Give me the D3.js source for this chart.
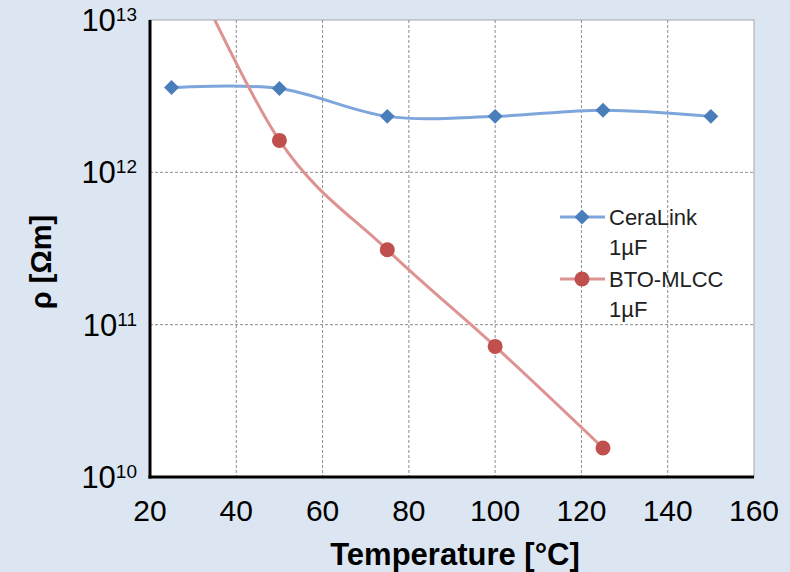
<!DOCTYPE html>
<html><head><meta charset="utf-8">
<script src="https://cdn.jsdelivr.net/npm/d3@7"></script>
<style>body{margin:0;background:#dce6f2;}svg{display:block;}</style>
</head><body>
<script>
const temps = [25, 50, 75, 100, 125, 150];
const ceraLink = [3.6e12, 3.55e12, 2.33e12, 2.33e12, 2.56e12, 2.33e12];
const btoTemps = [25, 50, 75, 100, 125];
const btoMlcc = [4.0e13, 1.62e12, 3.1e11, 7.2e10, 1.55e10];
const xTicks = [20, 40, 60, 80, 100, 120, 140, 160];
const yTicks = [1e10, 1e11, 1e12, 1e13];
const seriesNames = [["CeraLink", "1µF"], ["BTO-MLCC", "1µF"]];

const W = 790, H = 572;
const m = {left: 150, right: 754, top: 20, bottom: 477};
const svg = d3.select("body").append("svg").attr("width", W).attr("height", H);
svg.append("rect").attr("width", W).attr("height", H).attr("fill", "#dce6f2");

const x = d3.scaleLinear().domain([20, 160]).range([m.left, m.right]);
const y = d3.scaleLog().domain([1e10, 1e13]).range([m.bottom, m.top]);

svg.append("rect").attr("x", m.left).attr("y", m.top)
  .attr("width", m.right - m.left).attr("height", m.bottom - m.top)
  .attr("fill", "#fff").attr("stroke", "#a6a6a6").attr("stroke-width", 1);

// grid
const grid = svg.append("g");
grid.selectAll("line.v").data(xTicks.slice(1, -1)).join("line")
  .attr("x1", d => x(d)).attr("x2", d => x(d)).attr("y1", m.top).attr("y2", m.bottom)
  .attr("stroke", "#8c8c8c").attr("stroke-width", 1).attr("stroke-dasharray", "3,2");
grid.selectAll("line.h").data(yTicks.slice(1, -1)).join("line")
  .attr("x1", m.left).attr("x2", m.right).attr("y1", d => y(d)).attr("y2", d => y(d))
  .attr("stroke", "#8c8c8c").attr("stroke-width", 1).attr("stroke-dasharray", "3,2");

// axes lines
svg.append("line").attr("x1", m.left).attr("x2", m.left).attr("y1", m.top).attr("y2", m.bottom + 1.5)
  .attr("stroke", "#000").attr("stroke-width", 3);
svg.append("line").attr("x1", m.left - 1.5).attr("x2", m.right).attr("y1", m.bottom).attr("y2", m.bottom)
  .attr("stroke", "#000").attr("stroke-width", 3);

// x tick labels
svg.append("g").selectAll("text").data(xTicks).join("text")
  .attr("x", d => x(d)).attr("y", 521).attr("text-anchor", "middle")
  .attr("font-family", "Liberation Sans, Arial, sans-serif").attr("font-size", 30).attr("fill", "#000")
  .text(d => d);

// y tick labels
const yl = svg.append("g").selectAll("text").data(yTicks).join("text")
  .attr("x", 137).attr("y", d => y(d) + 11).attr("text-anchor", "end")
  .attr("font-family", "Liberation Sans, Arial, sans-serif").attr("font-size", 31).attr("fill", "#000");
yl.append("tspan").text("10");
yl.append("tspan").attr("font-size", 19).attr("dy", -10).text(d => Math.round(Math.log10(d)));

// axis titles
svg.append("text").attr("x", 455).attr("y", 565).attr("text-anchor", "middle")
  .attr("font-family", "Liberation Sans, Arial, sans-serif").attr("font-weight", "bold")
  .attr("font-size", 31).text("Temperature [°C]");
svg.append("text").attr("transform", "translate(51,262) rotate(-90)").attr("text-anchor", "middle")
  .attr("font-family", "Liberation Sans, Arial, sans-serif").attr("font-weight", "bold")
  .attr("font-size", 29).text("ρ [Ωm]");

// clip
svg.append("clipPath").attr("id", "clip").append("rect")
  .attr("x", m.left).attr("y", m.top).attr("width", m.right - m.left).attr("height", m.bottom - m.top);
const plot = svg.append("g").attr("clip-path", "url(#clip)");

const line = d3.line().x(d => x(d[0])).y(d => y(d[1])).curve(d3.curveCardinal.tension(0));
const cData = temps.map((t, i) => [t, ceraLink[i]]);
const bData = btoTemps.map((t, i) => [t, btoMlcc[i]]);

plot.append("path").datum(cData).attr("d", line).attr("fill", "none")
  .attr("stroke", "#7ea6dc").attr("stroke-width", 3);
plot.append("path").datum(bData).attr("d", line).attr("fill", "none")
  .attr("stroke", "#dc9391").attr("stroke-width", 3);

const diamond = d3.symbol().type(d3.symbolSquare).size(112);
plot.selectAll("path.cm").data(cData).join("path")
  .attr("d", diamond).attr("transform", d => `translate(${x(d[0])},${y(d[1])}) rotate(45)`)
  .attr("fill", "#4a7ebb");
plot.selectAll("circle.bm").data(bData).join("circle")
  .attr("cx", d => x(d[0])).attr("cy", d => y(d[1])).attr("r", 7.5).attr("fill", "#c0504d");

// legend
const lg = svg.append("g");
const lgY = [217, 279];
const cols = [["#7ea6dc", "#4a7ebb"], ["#dc9391", "#c0504d"]];
lgY.forEach((yy, i) => {
  lg.append("line").attr("x1", 560).attr("x2", 605).attr("y1", yy).attr("y2", yy)
    .attr("stroke", cols[i][0]).attr("stroke-width", 3);
  if (i === 0) {
    lg.append("path").attr("d", diamond)
      .attr("transform", `translate(582,${yy}) rotate(45)`).attr("fill", cols[i][1]);
  } else {
    lg.append("circle").attr("cx", 582).attr("cy", yy).attr("r", 7.5).attr("fill", cols[i][1]);
  }
  seriesNames[i].forEach((s, j) => {
    lg.append("text").attr("x", 609).attr("y", yy + 8 + j * 30)
      .attr("font-family", "Liberation Sans, Arial, sans-serif").attr("font-size", 22)
      .attr("fill", "#222").text(s);
  });
});
</script>
</body></html>
